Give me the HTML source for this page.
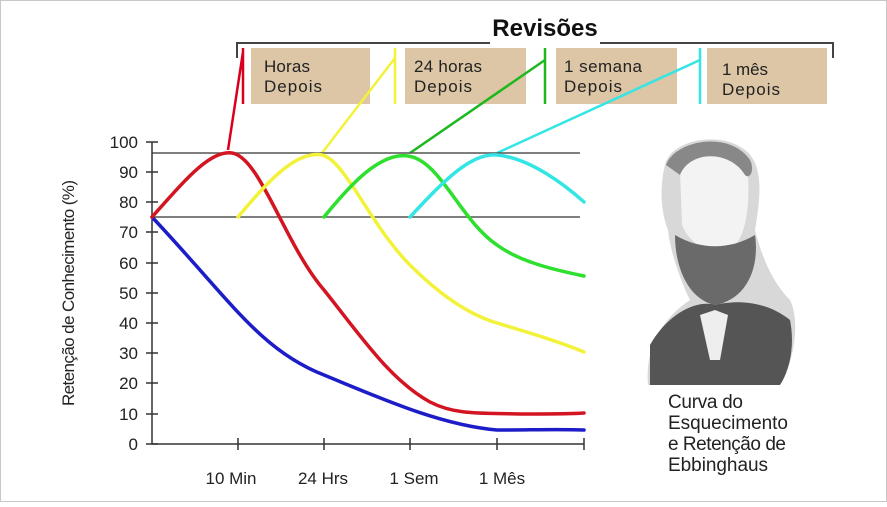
<!DOCTYPE html>
<html><head><meta charset="utf-8"><style>
html,body{margin:0;padding:0;background:#fff}
body{width:887px;height:502px;overflow:hidden;font-family:"Liberation Sans",sans-serif}
</style></head><body>
<svg width="887" height="502" viewBox="0 0 887 502" xmlns="http://www.w3.org/2000/svg" font-family="Liberation Sans, sans-serif">
<rect x="0.5" y="0.5" width="886" height="501" fill="#fff" stroke="#c8c8c8"/>
<path d="M237 58 V43 H490 M600 43 H833 V58" fill="none" stroke="#444" stroke-width="2"/>
<text x="545" y="36" font-size="24" font-weight="bold" text-anchor="middle" fill="#111">Revisões</text>
<g fill="#dcc6a5">
<rect x="251" y="48" width="119" height="56"/><rect x="405" y="48" width="121" height="56"/>
<rect x="556" y="48" width="121" height="56"/><rect x="707" y="48" width="120" height="56"/>
</g>
<g font-size="17" fill="#222">
<text x="264" y="72" textLength="46">Horas</text><text x="264" y="92" textLength="58">Depois</text>
<text x="414" y="72" textLength="68">24 horas</text><text x="414" y="92" textLength="58">Depois</text>
<text x="564" y="72" textLength="78">1 semana</text><text x="564" y="92" textLength="58">Depois</text>
<text x="722" y="75" textLength="46">1 mês</text><text x="722" y="95" textLength="58">Depois</text>
</g>
<g stroke-width="2.5" fill="none">
<path d="M243 48 V104 M228 150 L243 52" stroke="#d9001b"/>
<path d="M395 48 V104 M322 153 L395 58" stroke="#f2f23a"/>
<path d="M545 48 V104 M410 153 L545 60" stroke="#1db81d"/>
<path d="M700 48 V104 M497 153 L700 60" stroke="#33e5e5"/>
</g>
<path d="M152 153 H580 M152 217 H580" stroke="#555" stroke-width="1.5" fill="none"/>
<g stroke="#333" stroke-width="1.5" fill="none">
<path d="M152 142 V444 H584"/>
<path d="M146 142 H158 M146 172 H158 M146 202 H158 M146 232 H158 M146 263 H158 M146 293 H158 M146 323 H158 M146 353 H158 M146 383 H158 M146 414 H158 M146 444 H158"/>
<path d="M238 438 V450 M324 438 V450 M410 438 V450 M497 438 V450 M584 438 V450"/>
</g>
<g font-size="17" fill="#222" text-anchor="end">
<text x="138" y="148">100</text><text x="138" y="178">90</text><text x="138" y="208">80</text><text x="138" y="238">70</text><text x="138" y="269">60</text><text x="138" y="299">50</text><text x="138" y="329">40</text><text x="138" y="359">30</text><text x="138" y="389">20</text><text x="138" y="420">10</text><text x="138" y="450">0</text>
</g>
<g font-size="17" fill="#222" text-anchor="middle">
<text x="231" y="484">10 Min</text><text x="323" y="484">24 Hrs</text><text x="414" y="484">1 Sem</text><text x="502" y="484">1 Mês</text>
</g>
<text transform="translate(74,293) rotate(-90)" font-size="17" fill="#222" text-anchor="middle" textLength="226">Retenção de Conhecimento (%)</text>
<g fill="none" stroke-width="3.5" stroke-linecap="round">
<path d="M152 217 C230 300 260 350 324 375 C380 398 440 425 497 430 C530 430 560 429 584 430" stroke="#1c1cc8"/>
<path d="M152 217 C185 180 210 150 232 153 C260 157 285 245 324 290 C360 335 390 380 430 402 C455 415 480 413 520 414 C550 414 570 414 584 413" stroke="#d31522"/>
<path d="M238 217 C265 185 295 150 322 155 C345 160 370 225 410 265 C440 295 470 315 497 323 C530 333 560 342 584 352" stroke="#f2f23a"/>
<path d="M324 217 C350 185 380 152 408 156 C440 160 460 220 497 245 C520 262 555 270 584 276" stroke="#2ee02e"/>
<path d="M410 217 C440 185 470 152 497 155 C530 158 565 185 584 202" stroke="#33e5e5"/>
</g>
<g>
<path d="M665 165 C670 140 720 130 745 150 C765 165 760 200 755 230 C760 250 770 280 790 300 C800 320 795 360 780 385 L648 385 C645 350 660 320 690 300 C680 280 670 250 668 230 C660 210 660 185 665 165 Z" fill="#d8d8d8"/>
<path d="M680 170 C690 150 735 150 748 175 C750 210 745 240 730 250 C710 255 690 245 682 225 Z" fill="#f3f3f3"/>
<path d="M675 235 C700 250 730 250 755 235 C760 270 745 300 715 305 C690 300 675 270 675 235 Z" fill="#6a6a6a"/>
<path d="M650 345 C670 310 700 300 715 305 C735 300 765 300 790 320 C795 345 790 370 780 385 L650 385 Z" fill="#555"/>
<path d="M700 315 L715 310 L728 315 L720 360 L710 360 Z" fill="#eee"/>
<path d="M666 165 C675 140 730 130 750 160 C755 170 750 180 745 175 C730 150 690 150 680 175 Z" fill="#888"/>
</g>
<g font-size="19" fill="#222">
<text x="668" y="408" textLength="75">Curva do</text><text x="668" y="429" textLength="120">Esquecimento</text><text x="668" y="450" textLength="118">e Retenção de</text><text x="668" y="471" textLength="100">Ebbinghaus</text>
</g>
</svg>
</body></html>
